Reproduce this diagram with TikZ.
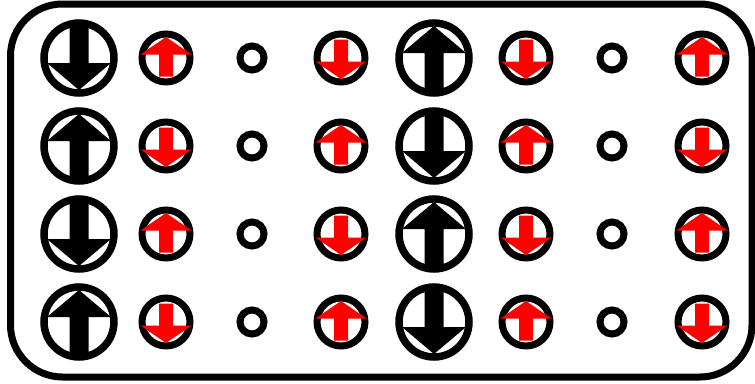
\documentclass[tikz,border=0pt]{standalone}
\begin{document}
\begin{tikzpicture}[x=1pt,y=-1pt,
  frame/.style={draw=black,line width=7pt,rounded corners=52pt},
  bigring/.style={draw=black,line width=7.5pt},
  smallring/.style={draw=black,line width=7pt},
  bigup/.pic={
    \draw[bigring] (0,0) circle[radius=35];
    \fill[black] (0,-32) -- (32,-5) -- (9.5,-5) -- (9.5,32) -- (-9.5,32) -- (-9.5,-5) -- (-32,-5) -- cycle;
  },
  redup/.pic={
    \draw[smallring] (0,0) circle[radius=24];
    \fill[red] (0,-21) -- (25.5,-3.5) -- (7,-3.5) -- (7,18.5) -- (-7,18.5) -- (-7,-3.5) -- (-25.5,-3.5) -- cycle;
  },
  site/.pic={
    \draw[smallring] (0,0) circle[radius=12];
  }
]
\useasboundingbox (0,0) rectangle (755,383);
\draw[frame] (10.5,4) rectangle (752,377);
\foreach \yy/\a/\b in {58/180/0, 146/0/180, 234/180/0, 322/0/180}{
  \pic[rotate=\a] at (79,\yy) {bigup};
  \pic[rotate=\b] at (166,\yy) {redup};
  \pic at (252,\yy) {site};
  \pic[rotate=\a] at (341,\yy) {redup};
  \pic[rotate=\b] at (434,\yy) {bigup};
  \pic[rotate=\a] at (526,\yy) {redup};
  \pic at (612,\yy) {site};
  \pic[rotate=\b] at (702,\yy) {redup};
}
\end{tikzpicture}
\end{document}
